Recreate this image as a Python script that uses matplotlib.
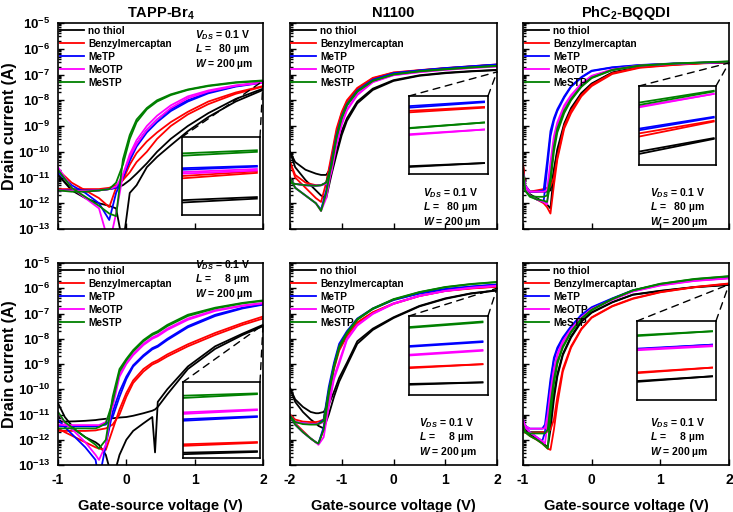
import matplotlib.pyplot as plt
import numpy as np
from matplotlib.patches import ConnectionPatch
from matplotlib.ticker import LogLocator, NullFormatter

plt.rcParams['font.family'] = ['Liberation Sans', 'DejaVu Sans']
plt.rcParams['font.weight'] = 'bold'
plt.rcParams['axes.unicode_minus'] = False
plt.rcParams['mathtext.fontset'] = 'custom'
plt.rcParams['mathtext.rm'] = 'Liberation Sans:bold'
plt.rcParams['mathtext.it'] = 'Liberation Sans:italic:bold'
plt.rcParams['mathtext.bf'] = 'Liberation Sans:bold'

labels = ["no thiol", "Benzylmercaptan", "MeTP", "MeOTP", "MeSTP"]
colors = ["black", "red", "blue", "magenta", "#008000"]
titles = ["TAPP-Br$_4$", "N1100", "PhC$_2$-BQQDI"]

# log10(drain current / A); two sweeps per thiol, order as in labels
# TAPP-Br4, L = 80 um
v_tapp80 = [-1, -0.8, -0.6, -0.4, -0.25, -0.15, -0.05, 0.05, 0.15, 0.3, 0.45, 0.65, 0.9, 1.2, 1.6, 2.0]
tapp80 = [
    [[-10.9, -11.45, -11.55, -11.5, -11.45, -11.4, -11.3, -11.1, -10.85, -10.45, -10.0, -9.5, -9.0, -8.5, -7.95, -7.55],
     [-10.9, -11.5, -11.8, -12.0, -12.1, -12.2, -13.6, -11.6, -11.3, -10.6, -10.2, -9.75, -9.2, -8.65, -8.05, -7.6]],
    [[-11.45, -11.45, -11.45, -11.45, -11.4, -11.3, -11.1, -10.5, -10.05, -9.6, -9.25, -8.85, -8.45, -8.05, -7.7, -7.45],
     [-10.7, -11.2, -11.5, -11.8, -12.15, -11.4, -11.1, -10.8, -10.4, -10.0, -9.5, -9.0, -8.55, -8.15, -7.75, -7.47]],
    [[-11.5, -11.5, -11.5, -11.5, -11.45, -11.4, -11.0, -10.25, -9.7, -9.15, -8.75, -8.35, -8.0, -7.7, -7.45, -7.3],
     [-10.8, -11.3, -11.6, -12.0, -12.65, -11.6, -11.0, -10.35, -9.8, -9.25, -8.85, -8.42, -8.05, -7.73, -7.47, -7.32]],
    [[-11.5, -11.52, -11.52, -11.5, -11.45, -11.35, -10.9, -10.1, -9.55, -9.0, -8.6, -8.2, -7.85, -7.62, -7.42, -7.3],
     [-10.6, -11.4, -11.8, -12.2, -13.6, -12.4, -10.9, -10.2, -9.7, -9.15, -8.75, -8.3, -7.92, -7.66, -7.44, -7.32]],
    [[-11.5, -11.55, -11.55, -11.5, -11.45, -11.2, -10.5, -9.5, -8.85, -8.35, -8.05, -7.8, -7.6, -7.45, -7.32, -7.25],
     [-10.7, -11.4, -11.75, -12.1, -12.4, -12.5, -10.3, -9.35, -8.75, -8.3, -8.0, -7.77, -7.58, -7.43, -7.3, -7.23]],
]

# N1100, L = 80 um
v_n80 = [-2, -1.9, -1.7, -1.5, -1.4, -1.3, -1.2, -1.1, -1.0, -0.9, -0.7, -0.4, 0, 0.5, 1.0, 1.5, 2.0]
n80 = [
    [[-10.0, -10.4, -10.7, -10.85, -10.9, -10.9, -10.6, -10.0, -9.2, -8.7, -8.05, -7.55, -7.22, -7.03, -6.93, -6.87, -6.82],
     [-10.0, -10.6, -11.1, -11.5, -11.7, -11.8, -10.9, -10.1, -9.35, -8.8, -8.12, -7.6, -7.25, -7.05, -6.95, -6.88, -6.83]],
    [[-10.4, -10.9, -11.2, -11.3, -11.3, -11.2, -10.3, -9.2, -8.5, -8.05, -7.55, -7.15, -6.93, -6.84, -6.76, -6.69, -6.62],
     [-10.4, -11.0, -11.4, -11.8, -11.95, -11.2, -10.15, -9.1, -8.45, -8.0, -7.52, -7.13, -6.92, -6.83, -6.75, -6.68, -6.61]],
    [[-11.2, -11.25, -11.3, -11.32, -11.3, -11.2, -10.6, -9.5, -8.7, -8.2, -7.65, -7.22, -6.96, -6.85, -6.76, -6.69, -6.62],
     [-11.0, -11.4, -11.7, -12.0, -12.25, -11.5, -10.4, -9.35, -8.62, -8.15, -7.62, -7.2, -6.95, -6.84, -6.75, -6.68, -6.61]],
    [[-11.2, -11.25, -11.3, -11.32, -11.3, -11.25, -10.8, -9.75, -8.95, -8.4, -7.8, -7.3, -7.03, -6.91, -6.82, -6.75, -6.69],
     [-11.0, -11.4, -11.7, -12.0, -12.3, -11.8, -10.7, -9.65, -8.88, -8.35, -7.77, -7.28, -7.02, -6.9, -6.81, -6.74, -6.68]],
    [[-11.2, -11.25, -11.3, -11.32, -11.3, -11.2, -10.55, -9.45, -8.7, -8.2, -7.67, -7.25, -7.0, -6.88, -6.8, -6.73, -6.67],
     [-11.0, -11.4, -11.7, -12.0, -12.3, -11.6, -10.5, -9.4, -8.65, -8.17, -7.65, -7.24, -6.99, -6.87, -6.79, -6.72, -6.66]],
]

# PhC2-BQQDI, L = 80 um
v_bq80 = [-1, -0.97, -0.9, -0.8, -0.7, -0.65, -0.6, -0.55, -0.5, -0.4, -0.3, -0.15, 0, 0.3, 0.7, 1.2, 1.6, 2.0]
bq80 = [
    [[-10.5, -11.3, -11.55, -11.55, -11.55, -11.55, -11.5, -10.7, -9.9, -8.9, -8.3, -7.72, -7.35, -6.92, -6.7, -6.6, -6.55, -6.52],
     [-10.5, -11.35, -11.65, -11.8, -11.95, -12.05, -12.2, -10.8, -10.0, -9.0, -8.35, -7.75, -7.38, -6.94, -6.71, -6.61, -6.56, -6.53]],
    [[-10.5, -11.4, -11.55, -11.5, -11.45, -11.4, -11.35, -11.0, -10.2, -9.0, -8.4, -7.8, -7.4, -6.95, -6.72, -6.62, -6.56, -6.52],
     [-10.5, -11.4, -11.7, -11.85, -12.0, -12.15, -12.4, -11.3, -10.3, -9.1, -8.5, -7.85, -7.45, -6.98, -6.74, -6.63, -6.57, -6.53]],
    [[-10.8, -11.3, -11.55, -11.55, -11.5, -10.4, -9.2, -8.7, -8.35, -7.85, -7.45, -7.1, -6.85, -6.72, -6.63, -6.57, -6.54, -6.51],
     [-10.8, -11.4, -11.7, -11.85, -11.95, -10.7, -9.4, -8.8, -8.42, -7.9, -7.48, -7.12, -6.87, -6.73, -6.64, -6.58, -6.55, -6.52]],
    [[-10.8, -11.3, -11.55, -11.55, -11.55, -11.5, -10.4, -9.4, -8.85, -8.2, -7.8, -7.35, -7.05, -6.8, -6.65, -6.58, -6.54, -6.5],
     [-10.8, -11.4, -11.7, -11.85, -11.95, -12.05, -10.7, -9.6, -8.95, -8.28, -7.85, -7.38, -7.07, -6.82, -6.66, -6.59, -6.55, -6.51]],
    [[-10.8, -11.5, -11.72, -11.75, -11.75, -11.7, -11.0, -9.8, -9.1, -8.4, -7.95, -7.45, -7.12, -6.82, -6.65, -6.57, -6.53, -6.49],
     [-10.8, -11.5, -11.75, -11.85, -11.9, -11.95, -11.2, -10.0, -9.25, -8.5, -8.0, -7.48, -7.14, -6.83, -6.66, -6.58, -6.54, -6.5]],
]

# TAPP-Br4, L = 8 um
v_tapp8 = [-1, -0.9, -0.75, -0.6, -0.45, -0.4, -0.3, -0.2, -0.1, 0, 0.1, 0.25, 0.38, 0.42, 0.46, 0.6, 0.9, 1.3, 1.7, 2.0]
tapp8 = [
    [[-11.3, -11.28, -11.27, -11.25, -11.22, -11.2, -11.17, -11.15, -11.12, -11.1, -11.05, -10.95, -10.85, -10.8, -10.7, -10.2, -9.2, -8.4, -7.85, -7.5],
     [-10.55, -11.1, -11.6, -11.9, -12.1, -12.2, -12.6, -13.6, -12.6, -12.0, -11.65, -11.35, -11.1, -12.5, -10.5, -10.0, -9.1, -8.3, -7.8, -7.45]],
    [[-11.65, -11.65, -11.65, -11.65, -11.63, -11.6, -11.55, -11.4, -11.0, -10.3, -9.75, -9.3, -9.02, -8.97, -8.92, -8.7, -8.3, -7.85, -7.45, -7.2],
     [-11.55, -11.7, -11.9, -12.1, -12.3, -12.35, -12.4, -11.6, -10.8, -10.15, -9.65, -9.2, -8.95, -8.9, -8.85, -8.62, -8.22, -7.77, -7.38, -7.12]],
    [[-11.45, -11.47, -11.47, -11.47, -11.47, -11.45, -11.4, -11.1, -10.3, -9.6, -9.1, -8.7, -8.42, -8.37, -8.32, -8.05, -7.55, -7.1, -6.8, -6.65],
     [-11.2, -11.5, -11.9, -12.3, -12.8, -13.6, -12.2, -10.9, -10.1, -9.5, -9.05, -8.65, -8.37, -8.32, -8.27, -8.0, -7.5, -7.05, -6.77, -6.63]],
    [[-11.4, -11.42, -11.42, -11.42, -11.42, -11.42, -11.3, -10.7, -9.5, -9.0, -8.65, -8.25, -8.0, -7.95, -7.9, -7.65, -7.25, -6.9, -6.7, -6.6],
     [-10.9, -11.35, -11.7, -12.1, -12.6, -12.8, -12.2, -10.4, -9.4, -8.95, -8.6, -8.2, -7.95, -7.9, -7.85, -7.6, -7.2, -6.87, -6.68, -6.58]],
    [[-11.55, -11.55, -11.55, -11.55, -11.55, -11.5, -11.35, -10.5, -9.3, -8.85, -8.5, -8.1, -7.85, -7.8, -7.75, -7.5, -7.1, -6.8, -6.6, -6.5],
     [-10.9, -11.3, -11.6, -11.9, -12.2, -12.35, -12.0, -10.3, -9.2, -8.8, -8.45, -8.05, -7.8, -7.75, -7.7, -7.45, -7.05, -6.77, -6.58, -6.48]],
]

# N1100, L = 8 um
v_n8 = [-2, -1.9, -1.75, -1.6, -1.5, -1.45, -1.35, -1.25, -1.15, -1.05, -0.9, -0.7, -0.4, 0, 0.5, 1.0, 1.5, 2.0]
n8 = [
    [[-9.95, -10.4, -10.7, -10.9, -10.95, -10.95, -10.9, -10.6, -10.1, -9.55, -8.95, -8.1, -7.6, -7.15, -6.7, -6.4, -6.2, -6.08],
     [-9.95, -10.5, -10.9, -11.2, -11.35, -11.45, -11.55, -11.0, -10.3, -9.7, -9.05, -8.2, -7.65, -7.18, -6.72, -6.42, -6.21, -6.09]],
    [[-11.0, -11.2, -11.28, -11.3, -11.3, -11.28, -11.2, -10.1, -9.1, -8.4, -7.85, -7.35, -6.95, -6.6, -6.3, -6.1, -6.0, -5.93],
     [-11.0, -11.35, -11.65, -11.95, -12.1, -12.15, -11.6, -10.25, -9.2, -8.47, -7.9, -7.38, -6.97, -6.62, -6.31, -6.11, -6.01, -5.94]],
    [[-11.05, -11.3, -11.35, -11.38, -11.38, -11.36, -11.2, -9.9, -8.95, -8.2, -7.7, -7.2, -6.8, -6.45, -6.2, -6.03, -5.93, -5.85],
     [-11.05, -11.4, -11.7, -11.95, -12.1, -12.15, -11.5, -10.1, -9.05, -8.3, -7.75, -7.23, -6.82, -6.47, -6.21, -6.04, -5.94, -5.86]],
    [[-11.05, -11.3, -11.35, -11.38, -11.38, -11.38, -11.3, -10.5, -9.5, -8.9, -8.0, -7.45, -7.0, -6.6, -6.3, -6.1, -5.98, -5.9],
     [-11.05, -11.4, -11.7, -11.95, -12.1, -12.2, -11.9, -10.7, -9.6, -9.0, -8.05, -7.48, -7.02, -6.62, -6.31, -6.11, -5.99, -5.91]],
    [[-11.05, -11.3, -11.38, -11.4, -11.4, -11.38, -11.25, -10.05, -9.05, -8.3, -7.75, -7.22, -6.8, -6.43, -6.15, -5.95, -5.83, -5.75],
     [-11.05, -11.4, -11.7, -11.95, -12.1, -12.15, -11.6, -10.2, -9.15, -8.38, -7.8, -7.25, -6.82, -6.45, -6.16, -5.96, -5.84, -5.76]],
]

# PhC2-BQQDI, L = 8 um
v_bq8 = [-1, -0.97, -0.9, -0.8, -0.72, -0.68, -0.64, -0.6, -0.55, -0.5, -0.42, -0.3, -0.15, 0, 0.3, 0.6, 1.0, 1.5, 2.0]
bq8 = [
    [[-11.3, -11.6, -11.7, -11.7, -11.7, -11.7, -11.65, -11.3, -10.2, -9.4, -8.6, -7.9, -7.3, -6.95, -6.55, -6.25, -6.1, -5.95, -5.86],
     [-11.3, -11.6, -11.8, -11.95, -12.1, -12.2, -12.3, -11.6, -10.4, -9.5, -8.65, -7.95, -7.33, -6.97, -6.56, -6.26, -6.11, -5.96, -5.87]],
    [[-11.4, -11.72, -11.72, -11.72, -11.7, -11.7, -11.68, -11.6, -11.2, -10.3, -9.2, -8.3, -7.6, -7.15, -6.7, -6.4, -6.15, -5.95, -5.81],
     [-11.4, -11.7, -11.85, -12.0, -12.15, -12.25, -12.35, -12.4, -11.6, -10.6, -9.3, -8.35, -7.63, -7.17, -6.72, -6.42, -6.16, -5.96, -5.82]],
    [[-11.2, -11.45, -11.56, -11.56, -11.56, -11.4, -10.5, -9.6, -8.75, -8.35, -7.95, -7.5, -7.05, -6.75, -6.4, -6.08, -5.85, -5.68, -5.58],
     [-11.2, -11.5, -11.7, -11.9, -12.05, -11.7, -10.7, -9.8, -8.85, -8.42, -8.0, -7.55, -7.08, -6.78, -6.42, -6.1, -5.86, -5.69, -5.59]],
    [[-11.2, -11.45, -11.56, -11.56, -11.56, -11.55, -11.0, -10.1, -9.2, -8.6, -8.1, -7.62, -7.15, -6.82, -6.45, -6.12, -5.88, -5.7, -5.6],
     [-11.2, -11.5, -11.7, -11.9, -12.05, -12.15, -11.3, -10.3, -9.3, -8.67, -8.15, -7.65, -7.17, -6.84, -6.46, -6.13, -5.89, -5.71, -5.61]],
    [[-11.4, -11.7, -11.75, -11.75, -11.75, -11.75, -11.6, -10.6, -9.6, -8.9, -8.3, -7.72, -7.2, -6.85, -6.42, -6.08, -5.82, -5.63, -5.52],
     [-11.4, -11.7, -11.85, -12.0, -12.15, -12.25, -12.35, -11.0, -9.8, -9.0, -8.35, -7.75, -7.22, -6.87, -6.43, -6.09, -5.83, -5.64, -5.53]],
]

# magnified end of sweep (inset): relative level at left / right edge, two sweeps per thiol
inset_tapp80 = [[(0.19, 0.23), (0.16, 0.21)], [(0.50, 0.56), (0.47, 0.54)], [(0.60, 0.63), (0.58, 0.62)],
                [(0.55, 0.59), (0.53, 0.57)], [(0.79, 0.83), (0.76, 0.81)]]
inset_n80 = [[(0.09, 0.14), (0.10, 0.14)], [(0.79, 0.85), (0.81, 0.86)], [(0.87, 0.93), (0.85, 0.92)],
             [(0.50, 0.57), (0.51, 0.57)], [(0.585, 0.66), (0.59, 0.66)]]
inset_bq80 = [[(0.17, 0.34), (0.14, 0.33)], [(0.40, 0.56), (0.36, 0.55)], [(0.46, 0.61), (0.44, 0.60)],
              [(0.73, 0.90), (0.74, 0.90)], [(0.79, 0.94), (0.76, 0.93)]]
inset_tapp8 = [[(0.07, 0.09), (0.05, 0.08)], [(0.18, 0.21), (0.16, 0.20)], [(0.51, 0.55), (0.49, 0.54)],
               [(0.60, 0.64), (0.58, 0.63)], [(0.82, 0.85), (0.79, 0.84)]]
inset_n8 = [[(0.14, 0.16), (0.13, 0.16)], [(0.35, 0.39), (0.34, 0.39)], [(0.62, 0.68), (0.61, 0.67)],
            [(0.51, 0.57), (0.50, 0.56)], [(0.86, 0.93), (0.85, 0.92)]]
inset_bq8 = [[(0.24, 0.30), (0.23, 0.30)], [(0.35, 0.41), (0.34, 0.41)], [(0.65, 0.70), (0.64, 0.70)],
             [(0.64, 0.69), (0.63, 0.68)], [(0.82, 0.87), (0.81, 0.87)]]

W, H = 733, 512


def px_box(x0, y0, x1, y1):
    return [x0 / W, 1 - y1 / H, (x1 - x0) / W, (y1 - y0) / H]


panels = [
    dict(box=(58, 23, 263, 229), v=v_tapp80, d=tapp80, ins=inset_tapp80, ibox=(182, 137, 260, 215), iend=0.96,
         target=-7.25, L="80", txt=(195, 35), xlim=(-1, 2), title=titles[0]),
    dict(box=(290, 23, 497, 229), v=v_n80, d=n80, ins=inset_n80, ibox=(409, 96, 488, 174), iend=0.95,
         target=-6.9, L="80", txt=(423, 193), xlim=(-2, 2), title=titles[1]),
    dict(box=(523, 23, 729, 229), v=v_bq80, d=bq80, ins=inset_bq80, ibox=(639, 86, 716, 165), iend=0.97,
         target=-6.55, L="80", txt=(650, 193), xlim=(-1, 2), title=titles[2]),
    dict(box=(58, 263, 263, 465), v=v_tapp8, d=tapp8, ins=inset_tapp8, ibox=(183, 382, 260, 458), iend=0.96,
         target=-7.45, L="8", txt=(195, 265), xlim=(-1, 2), title=None),
    dict(box=(290, 263, 497, 465), v=v_n8, d=n8, ins=inset_n8, ibox=(409, 316, 488, 395), iend=0.93,
         target=-6.0, L="8", txt=(419, 423), xlim=(-2, 2), title=None),
    dict(box=(523, 263, 729, 465), v=v_bq8, d=bq8, ins=inset_bq8, ibox=(637, 321, 716, 400), iend=0.95,
         target=-5.85, L="8", txt=(650, 423), xlim=(-1, 2), title=None),
]

fig = plt.figure(figsize=(7.33, 5.12), dpi=100)

for i, p in enumerate(panels):
    ax = fig.add_axes(px_box(*p["box"]))
    col, row = i % 3, i // 3
    for k in range(5):
        for sweep in p["d"][k]:
            ax.plot(p["v"], 10.0 ** np.array(sweep), color=colors[k], lw=1.3,
                    label=labels[k] if sweep is p["d"][k][0] else None)
    ax.set_yscale("log")
    ax.set_ylim(1e-13, 1e-5)
    ax.set_xlim(*p["xlim"])
    ax.set_xticks(np.arange(p["xlim"][0], p["xlim"][1] + 1))
    ax.yaxis.set_major_locator(LogLocator(base=10, numticks=20))
    ax.yaxis.set_minor_locator(LogLocator(base=10, subs=np.arange(2, 10) * 1.0, numticks=20))
    ax.yaxis.set_minor_formatter(NullFormatter())
    ax.tick_params(which="both", direction="in", top=False, right=False, width=1)
    ax.tick_params(which="major", length=4, labelsize=10)
    ax.tick_params(axis="y", labelsize=9.5)
    ax.tick_params(which="minor", length=2)
    ax.tick_params(axis="x", pad=6)
    ax.tick_params(axis="y", pad=5.5)
    for s in ax.spines.values():
        s.set_linewidth(1.2)
    if col > 0:
        ax.tick_params(axis="y", labelleft=False)
    else:
        ax.set_ylabel("Drain current (A)", fontsize=11.5, fontweight="bold")
        ax.yaxis.set_label_coords(-0.2, 0.5)
    if row == 0:
        ax.tick_params(axis="x", labelbottom=False)
        ax.set_title(p["title"], fontsize=10.5, fontweight="bold", pad=4)
    else:
        ax.set_xlabel("Gate-source voltage (V)", fontsize=10.5, fontweight="bold")
        ax.xaxis.set_label_coords(0.5, -0.17)

    ax.legend(loc="upper left", bbox_to_anchor=(-0.005, 1.0), frameon=False, fontsize=7.3,
              handlelength=2.4, handletextpad=0.4, labelspacing=0.3, borderaxespad=0.1, borderpad=0.15)

    # operating conditions
    x0, y0 = p["box"][0], p["box"][1]
    bw, bh = p["box"][2] - x0, p["box"][3] - y0
    tx, ty = p["txt"]
    lines = ["$V_{DS}$ = 0.1 V",
             "$L$ =   80 µm" if p["L"] == "80" else "$L$ =     8 µm",
             "$W$ = 200 µm"]
    for j, s in enumerate(lines):
        ax.text((tx - x0) / bw, 1 - (ty + 14.5 * j - y0) / bh, s, transform=ax.transAxes,
                fontsize=7.5, fontweight="bold", ha="left", va="center")

    # magnified inset
    ins = fig.add_axes(px_box(*p["ibox"]))
    for k in range(5):
        for left, right in p["ins"][k]:
            ins.plot([0, p["iend"]], [left, right], color=colors[k], lw=1.3)
    ins.set_xlim(0, 1)
    ins.set_ylim(0, 1)
    ins.set_xticks([])
    ins.set_yticks([])
    for s in ins.spines.values():
        s.set_linewidth(1.2)
    for corner in [(0, 1), (1, 1)]:
        con = ConnectionPatch(xyA=corner, coordsA=ins.transAxes, xyB=(2, 10.0 ** p["target"]),
                              coordsB=ax.transData, color="black", lw=1, linestyle=(0, (5, 4)))
        fig.add_artist(con)

fig.savefig("out.png", dpi=100)
